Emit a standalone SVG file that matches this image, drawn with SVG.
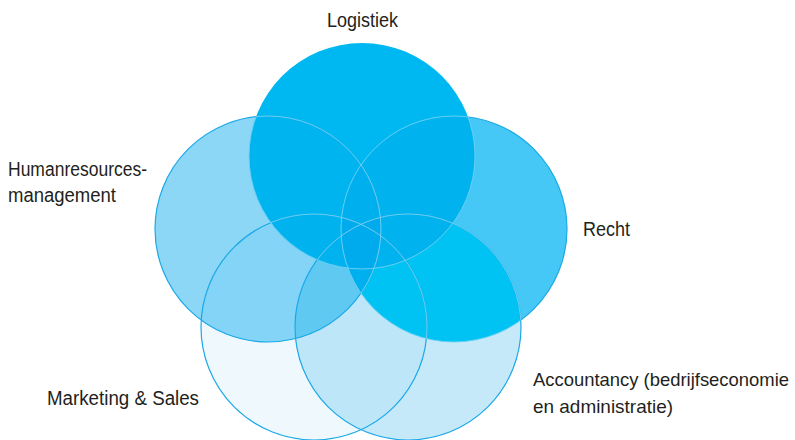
<svg xmlns="http://www.w3.org/2000/svg" width="795" height="440" viewBox="0 0 795 440">
<style>
.lbl{font-family:"Liberation Sans",Arial,sans-serif;font-size:19.5px;fill:#231f20}
.sm{font-size:18.5px}
.bs{fill:none;stroke:#1ca9e7;stroke-width:1.2}
.ls{fill:none;stroke:#72d3f5;stroke-width:0.9}
</style>
<defs>
<clipPath id="cL"><circle cx="362" cy="156" r="113"/></clipPath>
<clipPath id="cH"><circle cx="268" cy="229" r="113"/></clipPath>
<clipPath id="cR"><circle cx="454" cy="229" r="113"/></clipPath>
<clipPath id="cM"><circle cx="314" cy="327" r="113"/></clipPath>
<clipPath id="cA"><circle cx="408" cy="327" r="113"/></clipPath>
<clipPath id="cLR"><circle cx="362" cy="156" r="113"/><circle cx="454" cy="229" r="113"/></clipPath>
<clipPath id="cNotL"><circle cx="268" cy="229" r="113"/><circle cx="454" cy="229" r="113"/><circle cx="314" cy="327" r="113"/><circle cx="408" cy="327" r="113"/></clipPath>
<clipPath id="cNotR"><circle cx="268" cy="229" r="113"/><circle cx="362" cy="156" r="113"/><circle cx="314" cy="327" r="113"/><circle cx="408" cy="327" r="113"/></clipPath>
<mask id="mR" maskUnits="userSpaceOnUse" x="0" y="0" width="795" height="440">
<rect width="795" height="440" fill="#fff"/>
<circle cx="408" cy="327" r="112.5" fill="#000"/>
<circle cx="362" cy="156" r="112.5" fill="#000"/>
<circle cx="268" cy="229" r="112.5" fill="#000"/>
</mask>
</defs>
<rect width="795" height="440" fill="#fff"/>
<g id="node-marketing"><circle cx="314" cy="327" r="113" fill="#eef8fd"/></g>
<g id="node-accountancy"><circle cx="408" cy="327" r="113" fill="#c5e9f9"/></g>
<g id="node-hrm"><circle cx="268" cy="229" r="113" fill="#8dd7f6"/></g>
<g id="node-recht"><circle cx="454" cy="229" r="113" fill="#45c8f5"/></g>
<g id="node-logistiek"><circle cx="362" cy="156" r="113" fill="#00b8f1"/></g>
<g id="overlaps">
<g clip-path="url(#cM)"><circle cx="408" cy="327" r="113" fill="#bee6f9"/></g>
<g clip-path="url(#cH)"><circle cx="314" cy="327" r="113" fill="#83d4f6"/></g>
<g clip-path="url(#cH)"><circle cx="408" cy="327" r="113" fill="#5fc9f2"/></g>
<g clip-path="url(#cR)"><circle cx="408" cy="327" r="113" fill="#00c3f3"/><circle cx="314" cy="327" r="113" fill="#00c3f3"/></g>
<g clip-path="url(#cH)"><circle cx="454" cy="229" r="113" fill="#00b0ee"/></g>
<g clip-path="url(#cL)">
<circle cx="268" cy="229" r="113" fill="#00b4ef"/>
<circle cx="454" cy="229" r="113" fill="#00b3ee"/>
<circle cx="314" cy="327" r="113" fill="#00b3ee"/>
<circle cx="408" cy="327" r="113" fill="#00b3ee"/>
<g clip-path="url(#cH)"><circle cx="454" cy="229" r="113" fill="#00afed"/>
<g clip-path="url(#cR)"><circle cx="314" cy="327" r="113" fill="#00abed"/><circle cx="408" cy="327" r="113" fill="#00abed"/></g>
</g>
</g>
</g>
<g id="outlines">
<circle class="bs" cx="268" cy="229" r="113"/>
<circle class="bs" cx="314" cy="327" r="113"/>
<circle class="bs" cx="408" cy="327" r="113"/>
<circle class="bs" cx="454" cy="229" r="113" mask="url(#mR)"/>
<g clip-path="url(#cLR)">
<circle class="ls" cx="268" cy="229" r="113"/>
<circle class="ls" cx="314" cy="327" r="113"/>
<circle class="ls" cx="408" cy="327" r="113"/>
</g>
<circle class="ls" cx="362" cy="156" r="113" clip-path="url(#cNotL)"/>
<circle class="ls" cx="454" cy="229" r="113" clip-path="url(#cNotR)"/>
</g>
<g id="labels">
<text class="lbl" x="327" y="27" textLength="71" lengthAdjust="spacingAndGlyphs">Logistiek</text>
<text class="lbl" x="8" y="176" textLength="139" lengthAdjust="spacingAndGlyphs">Humanresources-</text>
<text class="lbl" x="8" y="202" textLength="108" lengthAdjust="spacingAndGlyphs">management</text>
<text class="lbl" x="583" y="236" textLength="47" lengthAdjust="spacingAndGlyphs">Recht</text>
<text class="lbl sm" x="533" y="386" textLength="256" lengthAdjust="spacingAndGlyphs">Accountancy (bedrijfseconomie</text>
<text class="lbl sm" x="533" y="413" textLength="140" lengthAdjust="spacingAndGlyphs">en administratie)</text>
<text class="lbl" x="47" y="405" textLength="152" lengthAdjust="spacingAndGlyphs">Marketing &amp; Sales</text>
</g>
</svg>
